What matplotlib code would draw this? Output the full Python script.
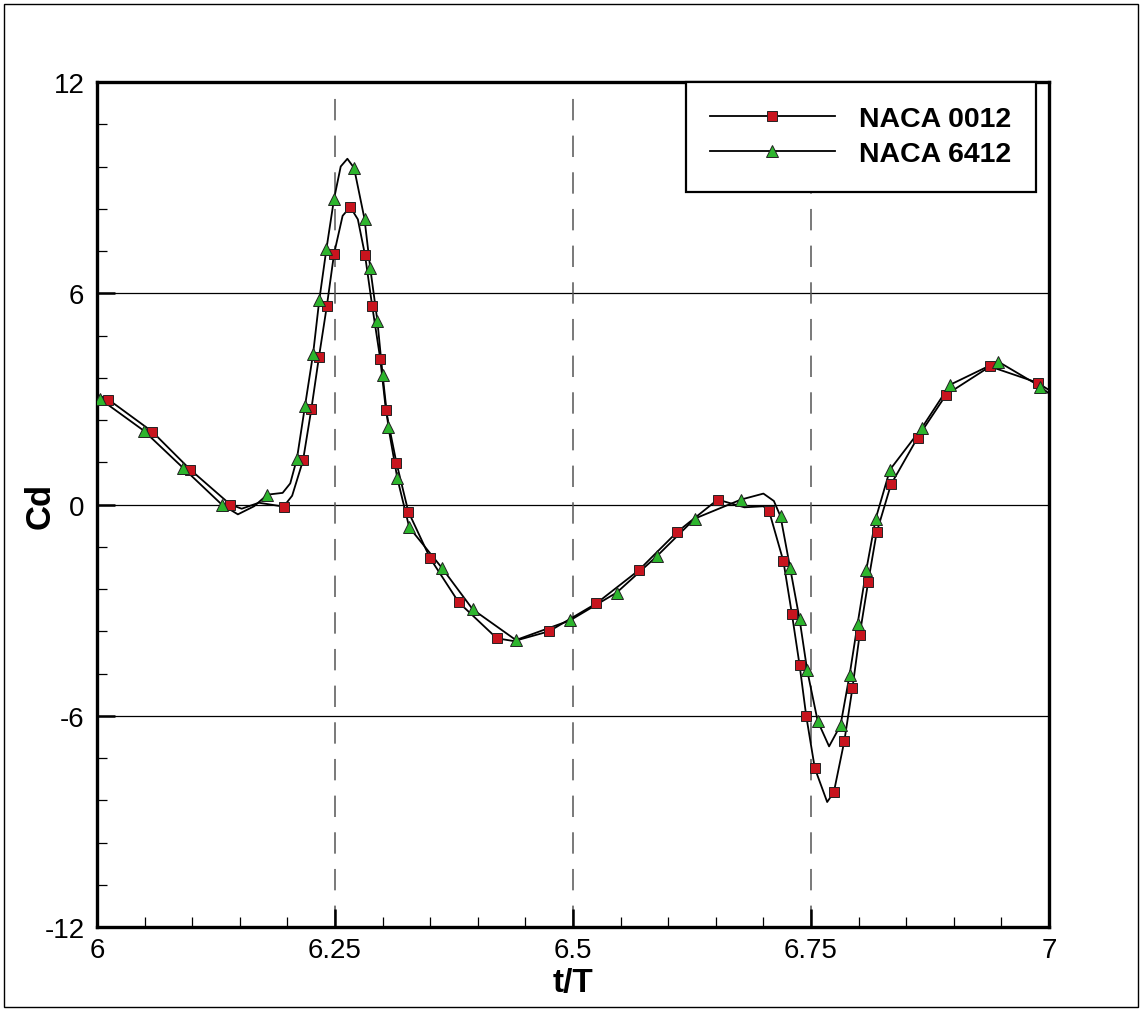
import numpy as np
import matplotlib
matplotlib.use("Agg")
import matplotlib.pyplot as plt
from matplotlib.patches import Rectangle

plt.rcParams['font.family'] = ['Liberation Sans', 'DejaVu Sans']
plt.rcParams['axes.unicode_minus'] = False

# NACA 0012 - points with markers
t_0012 = [6.012, 6.058, 6.098, 6.140, 6.196, 6.2164, 6.2251, 6.2332, 6.2415, 6.249,
          6.266, 6.2815, 6.289, 6.2975, 6.3035, 6.3145, 6.327, 6.350, 6.380, 6.420,
          6.475, 6.5245, 6.569, 6.609, 6.652, 6.706, 6.721, 6.730, 6.738, 6.745,
          6.754, 6.774, 6.785, 6.7935, 6.801, 6.810, 6.819, 6.834, 6.862, 6.892,
          6.938, 6.988]
cd_0012 = [2.98, 2.07, 0.99, 0.00, -0.06, 1.25, 2.70, 4.20, 5.65, 7.12,
           8.45, 7.09, 5.65, 4.14, 2.67, 1.19, -0.20, -1.53, -2.78, -3.80,
           -3.60, -2.81, -1.87, -0.79, 0.14, -0.19, -1.61, -3.12, -4.56, -6.01,
           -7.49, -8.17, -6.72, -5.22, -3.72, -2.21, -0.79, 0.57, 1.90, 3.12,
           3.92, 3.46]
# extra points on the line (no marker)
t_0012_line = [6.000, 6.152, 6.170, 6.205, 6.258, 6.274, 6.438, 6.680, 6.700, 6.767, 7.000]
cd_0012_line = [3.12, -0.12, 0.05, 0.25, 8.20, 8.10, -3.88, -0.08, -0.05, -8.45, 3.25]

# NACA 6412
t_6412 = [6.003, 6.049, 6.090, 6.131, 6.179, 6.210, 6.2185, 6.227, 6.2335, 6.241,
          6.249, 6.270, 6.281, 6.287, 6.2945, 6.300, 6.306, 6.3155, 6.328, 6.362,
          6.3947, 6.440, 6.497, 6.546, 6.588, 6.628, 6.6765, 6.718, 6.728, 6.738,
          6.746, 6.757, 6.781, 6.7905, 6.799, 6.808, 6.818, 6.833, 6.8665, 6.896,
          6.9465, 6.991]
cd_6412 = [3.00, 2.10, 1.05, 0.00, 0.28, 1.30, 2.80, 4.28, 5.81, 7.26,
           8.68, 9.56, 8.11, 6.72, 5.22, 3.69, 2.21, 0.74, -0.65, -1.79,
           -2.98, -3.85, -3.29, -2.50, -1.47, -0.40, 0.14, -0.34, -1.79, -3.26,
           -4.71, -6.15, -6.27, -4.85, -3.38, -1.87, -0.40, 0.99, 2.18, 3.40,
           4.06, 3.35]
t_6412_line = [6.000, 6.148, 6.165, 6.195, 6.203, 6.256, 6.263, 6.700, 6.711, 6.769, 7.000]
cd_6412_line = [3.05, -0.28, -0.05, 0.33, 0.60, 9.60, 9.82, 0.31, 0.10, -6.87, 3.15]


def merged(t_m, c_m, t_l, c_l):
    t = np.array(t_m + t_l)
    c = np.array(c_m + c_l)
    o = np.argsort(t)
    return t[o], c[o]


fig = plt.figure(figsize=(11.46, 10.12), dpi=100)
ax = fig.add_axes([97 / 1146, 84 / 1012, 952 / 1146, 845 / 1012])

# grid lines
for yv in [-6, 0, 6]:
    ax.axhline(yv, color='black', lw=0.9, zorder=1)
for xv in [6.25, 6.5, 6.75]:
    ax.axvline(xv, color='#555555', lw=1.1, dashes=(14, 10), zorder=1)

series = [
    ("NACA 0012", t_0012, cd_0012, t_0012_line, cd_0012_line, 's', '#c8141e', 7),
    ("NACA 6412", t_6412, cd_6412, t_6412_line, cd_6412_line, '^', '#2db52d', 8),
]
for name, tm, cm, tl, cl, mk, col, ms in series:
    tt, cc = merged(tm, cm, tl, cl)
    ax.plot(tt, cc, color='black', lw=1.3, zorder=3)
    ax.plot(tm, cm, ls='none', marker=mk, ms=ms, mfc=col, mec='#222222', mew=0.7, zorder=4)
    ax.plot([], [], color='black', lw=1.3, marker=mk, ms=ms, mfc=col, mec='#222222',
            mew=0.7, label=name)

ax.set_xlim(6, 7)
ax.set_ylim(-12, 12)
ax.set_xticks([6, 6.25, 6.5, 6.75, 7])
ax.set_xticklabels(['6', '6.25', '6.5', '6.75', '7'])
ax.set_yticks([-12, -6, 0, 6, 12])
ax.set_xticks(np.arange(6, 7.001, 0.05), minor=True)
ax.set_yticks(np.arange(-12, 12.001, 1.2), minor=True)
ax.tick_params(which='major', direction='in', length=13, width=1.8, labelsize=20,
               top=False, right=False)
ax.tick_params(which='minor', direction='in', length=7, width=0.9, top=False, right=False)
ax.tick_params(axis='x', pad=7)
ax.tick_params(axis='y', pad=9)
for s in ax.spines.values():
    s.set_linewidth(2.4)

ax.set_xlabel('t/T', fontsize=24, fontweight='bold')
ax.set_ylabel('Cd', fontsize=25, fontweight='bold')
ax.xaxis.set_label_coords(0.5, -0.066)
ax.yaxis.set_label_coords(-0.06, 0.5)
ax.xaxis.label.set_va('center')
ax.yaxis.label.set_va('center')

leg = ax.legend(loc='upper right', bbox_to_anchor=(0.986, 1.0), borderaxespad=0,
                prop={'weight': 'bold', 'size': 20.5}, fancybox=False,
                edgecolor='black', framealpha=1, handlelength=4.4, handletextpad=0.85,
                borderpad=0.85, labelspacing=0.32)
leg.get_frame().set_linewidth(1.6)

fig.patches.append(Rectangle((4 / 1146, 4 / 1012), 1134 / 1146, 1003 / 1012,
                             transform=fig.transFigure, fill=False, lw=1.0, ec='black'))

fig.savefig('out.png', dpi=100)
